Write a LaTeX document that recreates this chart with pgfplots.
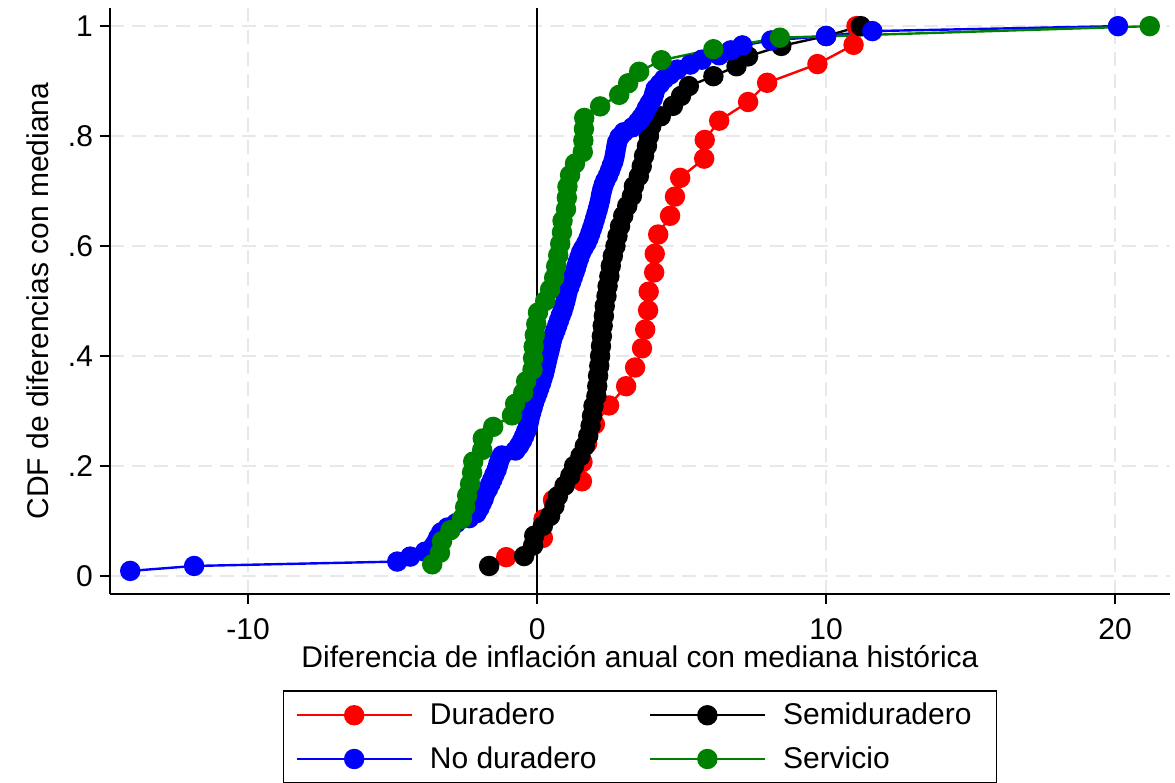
\documentclass[border=0pt]{standalone}
\usepackage{fontspec}
\setmainfont{Liberation Sans}
\usepackage{pgfplots}
\pgfplotsset{compat=1.18}
\definecolor{sgreen}{RGB}{0,128,0}
\definecolor{gridc}{RGB}{232,232,232}
\newcommand{\ff}{\fontsize{15}{18}\selectfont}
\begin{document}
\begin{tikzpicture}
\begin{axis}[
 at={(0,0)}, anchor=south west,
 scale only axis, width=530pt, height=293pt,
 xmin=-14.78, xmax=21.9, ymin=-0.033, ymax=1.033,
 axis x line*=bottom, axis y line*=left,
 axis line style={line width=1pt},
 xtick={-10,0,10,20}, xticklabels={-10,0,10,20},
 ytick={0,0.2,0.4,0.6,0.8,1}, yticklabels={0,.2,.4,.6,.8,1},
 tick align=outside, major tick length=5pt,
 tick style={line width=0.8pt, black},
 xmajorgrids, ymajorgrids,
 grid style={gridc, line width=0.8pt, dash pattern=on 7pt off 4pt},
 ticklabel style={font=\ff},
 xticklabel style={yshift=-3.5pt},
 xlabel={Diferencia de inflación anual con mediana histórica},
 ylabel={CDF de diferencias con mediana},
 label style={font=\ff},
 xlabel style={at={(axis description cs:0.5,0)}, anchor=base, yshift=-36.5pt},
 ylabel style={yshift=2.5pt},
 legend columns=2,
 legend style={at={(0.5,-0.1638)}, anchor=north, font=\ff, draw=black, line width=0.9pt,
   inner xsep=6pt, inner ysep=4pt, row sep=5.5pt,
   /tikz/every odd column/.append style={column sep=6.5pt},
   /tikz/every even column/.append style={column sep=24pt},
   cells={anchor=west}},
 legend image code/.code={
   \draw[mark repeat=2,mark phase=2,#1] plot coordinates {(0pt,0pt) (28.75pt,0pt) (57.5pt,0pt)};
 },
 every axis plot/.append style={line width=1.2pt, mark=*, mark size=4.5pt},
]
\addplot[black, line width=1.2pt, mark=none, forget plot] coordinates {(0,-0.033) (0,1.033)};

\addplot[red, mark options={fill=red, draw=red}] table[row sep=\\] {
x y\\
-1.07 0.034\\ 0.20 0.069\\ 0.22 0.103\\ 0.55 0.138\\ 1.55 0.172\\ 1.57 0.207\\
1.73 0.241\\ 2.00 0.276\\ 2.49 0.310\\ 3.08 0.345\\ 3.39 0.379\\ 3.63 0.414\\
3.74 0.448\\ 3.84 0.483\\ 3.86 0.517\\ 4.05 0.552\\ 4.07 0.586\\ 4.19 0.621\\
4.60 0.655\\ 4.77 0.690\\ 4.95 0.724\\ 5.78 0.759\\ 5.80 0.793\\ 6.30 0.828\\
7.30 0.862\\ 7.96 0.897\\ 9.70 0.931\\ 10.95 0.966\\ 11.05 1.000\\
};
\addlegendentry{Duradero}

\addplot[black, mark options={fill=black, draw=black}] table[row sep=\\] {
x y\\
-1.66 0.018\\ -0.45 0.036\\ -0.14 0.055\\ -0.10 0.073\\ 0.20 0.091\\ 0.45 0.109\\
0.60 0.127\\ 0.72 0.145\\ 0.95 0.164\\ 1.15 0.182\\ 1.28 0.200\\ 1.50 0.218\\
1.65 0.236\\ 1.77 0.255\\ 1.85 0.273\\ 1.90 0.291\\ 1.95 0.309\\ 2.05 0.327\\
2.08 0.345\\ 2.11 0.364\\ 2.15 0.382\\ 2.18 0.400\\ 2.21 0.418\\ 2.24 0.436\\
2.27 0.455\\ 2.31 0.473\\ 2.34 0.491\\ 2.40 0.509\\ 2.44 0.527\\ 2.50 0.545\\
2.55 0.564\\ 2.62 0.582\\ 2.71 0.600\\ 2.78 0.618\\ 2.87 0.636\\ 2.98 0.655\\
3.12 0.673\\ 3.28 0.691\\ 3.35 0.709\\ 3.52 0.727\\ 3.62 0.745\\ 3.70 0.764\\
3.80 0.782\\ 3.87 0.800\\ 3.95 0.818\\ 4.28 0.836\\ 4.70 0.855\\ 4.98 0.873\\
5.25 0.891\\ 6.10 0.909\\ 6.90 0.927\\ 7.30 0.945\\ 8.45 0.964\\ 10.0 0.982\\
11.2 1.000\\
};
\addlegendentry{Semiduradero\kern4.5pt}

\addplot[blue, mark options={fill=blue, draw=blue}] table[row sep=\\] {
x y\\
-14.08 0.009\\ -11.87 0.018\\ -4.84 0.026\\ -4.39 0.035\\ -3.88 0.044\\ -3.60 0.053\\
-3.50 0.061\\ -3.42 0.070\\ -3.32 0.079\\ -3.10 0.088\\ -2.80 0.096\\ -2.35 0.105\\
-2.10 0.114\\ -2.00 0.123\\ -1.92 0.132\\ -1.85 0.140\\ -1.80 0.149\\ -1.70 0.158\\
-1.62 0.167\\ -1.55 0.175\\ -1.48 0.184\\ -1.40 0.193\\ -1.35 0.202\\ -1.30 0.211\\
-1.22 0.219\\ -0.75 0.228\\ -0.62 0.237\\ -0.52 0.246\\ -0.45 0.254\\ -0.38 0.263\\
-0.32 0.272\\ -0.28 0.281\\ -0.25 0.289\\ -0.20 0.298\\ -0.15 0.307\\ -0.10 0.316\\
-0.04 0.325\\ 0.02 0.333\\ 0.08 0.342\\ 0.14 0.351\\ 0.19 0.360\\ 0.24 0.368\\
0.28 0.377\\ 0.32 0.386\\ 0.36 0.395\\ 0.40 0.404\\ 0.44 0.412\\ 0.48 0.421\\
0.52 0.430\\ 0.58 0.439\\ 0.64 0.447\\ 0.70 0.456\\ 0.76 0.465\\ 0.82 0.474\\
0.88 0.482\\ 0.93 0.491\\ 0.98 0.500\\ 1.02 0.509\\ 1.06 0.518\\ 1.12 0.526\\
1.18 0.535\\ 1.24 0.544\\ 1.30 0.553\\ 1.35 0.561\\ 1.40 0.570\\ 1.46 0.579\\
1.52 0.588\\ 1.60 0.596\\ 1.70 0.605\\ 1.78 0.614\\ 1.84 0.623\\ 1.90 0.632\\
1.95 0.640\\ 2.00 0.649\\ 2.05 0.658\\ 2.10 0.667\\ 2.14 0.675\\ 2.18 0.684\\
2.21 0.693\\ 2.25 0.702\\ 2.30 0.711\\ 2.36 0.719\\ 2.45 0.728\\ 2.52 0.737\\
2.58 0.746\\ 2.64 0.754\\ 2.68 0.763\\ 2.71 0.772\\ 2.74 0.781\\ 2.77 0.789\\
2.85 0.798\\ 3.00 0.807\\ 3.30 0.816\\ 3.48 0.825\\ 3.60 0.833\\ 3.72 0.842\\
3.80 0.851\\ 3.90 0.860\\ 4.00 0.868\\ 4.05 0.877\\ 4.10 0.886\\ 4.25 0.895\\
4.40 0.904\\ 4.60 0.912\\ 4.85 0.921\\ 5.30 0.930\\ 5.70 0.939\\ 6.30 0.947\\
6.70 0.956\\ 7.10 0.965\\ 8.10 0.974\\ 10.0 0.982\\ 11.6 0.991\\ 20.1 1.000\\
};
\addlegendentry{No duradero}

\addplot[sgreen, mark options={fill=sgreen, draw=sgreen}] table[row sep=\\] {
x y\\
-3.63 0.021\\ -3.36 0.042\\ -3.29 0.063\\ -3.00 0.083\\ -2.60 0.104\\ -2.49 0.125\\
-2.42 0.146\\ -2.32 0.167\\ -2.25 0.188\\ -2.21 0.208\\ -1.90 0.229\\ -1.88 0.250\\
-1.52 0.271\\ -0.87 0.292\\ -0.76 0.313\\ -0.48 0.333\\ -0.38 0.354\\ -0.16 0.375\\
-0.14 0.396\\ -0.12 0.417\\ -0.08 0.438\\ -0.03 0.458\\ 0.03 0.479\\ 0.28 0.500\\
0.45 0.521\\ 0.59 0.542\\ 0.66 0.563\\ 0.73 0.583\\ 0.80 0.604\\ 0.86 0.625\\
0.88 0.646\\ 1.00 0.667\\ 1.03 0.688\\ 1.05 0.708\\ 1.14 0.729\\ 1.31 0.750\\
1.58 0.771\\ 1.60 0.792\\ 1.62 0.813\\ 1.63 0.833\\ 2.18 0.854\\ 2.84 0.875\\
3.15 0.896\\ 3.53 0.917\\ 4.30 0.938\\ 6.10 0.958\\ 8.40 0.979\\ 21.2 1.000\\
};
\addlegendentry{Servicio}
\end{axis}
\pgfresetboundingbox
\useasboundingbox (-55pt,-94.5pt) rectangle (532.5pt,297pt);
\end{tikzpicture}
\end{document}
